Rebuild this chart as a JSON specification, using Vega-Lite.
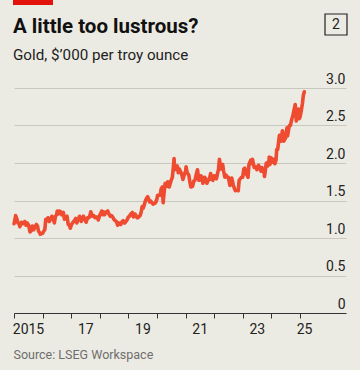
{
  "$schema": "https://vega.github.io/schema/vega-lite/v6.json",
  "width": 332,
  "height": 225,
  "autosize": {"type": "none"},
  "padding": {"left": 14, "top": 88, "right": 14, "bottom": 57},
  "background": "#ECEBE3",
  "config": {
    "view": {"stroke": null},
    "font": "Roboto",
    "axis": {"labelFont": "Roboto", "titleFont": "Roboto"}
  },
  "layer": [
    {
      "data": {"values": [
        {"date": "2015-01-02", "price": 1.19}, {"date": "2015-01-22", "price": 1.30}, {"date": "2015-02-05", "price": 1.26}, {"date": "2015-02-20", "price": 1.20}, {"date": "2015-03-05", "price": 1.20}, {"date": "2015-03-17", "price": 1.15}, {"date": "2015-04-06", "price": 1.21}, {"date": "2015-04-20", "price": 1.19}, {"date": "2015-05-05", "price": 1.19}, {"date": "2015-05-18", "price": 1.22}, {"date": "2015-06-05", "price": 1.17}, {"date": "2015-06-18", "price": 1.20}, {"date": "2015-07-07", "price": 1.17}, {"date": "2015-07-24", "price": 1.08}, {"date": "2015-08-10", "price": 1.10}, {"date": "2015-08-24", "price": 1.16}, {"date": "2015-09-10", "price": 1.11}, {"date": "2015-09-25", "price": 1.15}, {"date": "2015-10-14", "price": 1.18}, {"date": "2015-10-28", "price": 1.16}, {"date": "2015-11-10", "price": 1.09}, {"date": "2015-11-25", "price": 1.07}, {"date": "2015-12-03", "price": 1.05}, {"date": "2015-12-17", "price": 1.06}, {"date": "2015-12-31", "price": 1.06},
        {"date": "2016-01-15", "price": 1.09}, {"date": "2016-01-29", "price": 1.11}, {"date": "2016-02-11", "price": 1.25}, {"date": "2016-02-25", "price": 1.23}, {"date": "2016-03-10", "price": 1.27}, {"date": "2016-03-28", "price": 1.22}, {"date": "2016-04-12", "price": 1.25}, {"date": "2016-04-29", "price": 1.29}, {"date": "2016-05-16", "price": 1.27}, {"date": "2016-05-30", "price": 1.20}, {"date": "2016-06-14", "price": 1.29}, {"date": "2016-06-28", "price": 1.31}, {"date": "2016-07-06", "price": 1.36}, {"date": "2016-07-20", "price": 1.32}, {"date": "2016-08-03", "price": 1.36}, {"date": "2016-08-18", "price": 1.35}, {"date": "2016-09-02", "price": 1.31}, {"date": "2016-09-22", "price": 1.34}, {"date": "2016-10-06", "price": 1.25}, {"date": "2016-10-25", "price": 1.27}, {"date": "2016-11-08", "price": 1.29}, {"date": "2016-11-24", "price": 1.18}, {"date": "2016-12-08", "price": 1.17}, {"date": "2016-12-20", "price": 1.13},
        {"date": "2017-01-05", "price": 1.18}, {"date": "2017-01-24", "price": 1.21}, {"date": "2017-02-10", "price": 1.23}, {"date": "2017-02-27", "price": 1.26}, {"date": "2017-03-14", "price": 1.20}, {"date": "2017-03-31", "price": 1.25}, {"date": "2017-04-17", "price": 1.29}, {"date": "2017-05-09", "price": 1.22}, {"date": "2017-05-26", "price": 1.27}, {"date": "2017-06-06", "price": 1.29}, {"date": "2017-06-22", "price": 1.25}, {"date": "2017-07-10", "price": 1.21}, {"date": "2017-07-28", "price": 1.27}, {"date": "2017-08-15", "price": 1.27}, {"date": "2017-08-30", "price": 1.31}, {"date": "2017-09-08", "price": 1.35}, {"date": "2017-09-26", "price": 1.29}, {"date": "2017-10-16", "price": 1.30}, {"date": "2017-10-31", "price": 1.27}, {"date": "2017-11-15", "price": 1.28}, {"date": "2017-11-30", "price": 1.28}, {"date": "2017-12-12", "price": 1.24}, {"date": "2017-12-29", "price": 1.30},
        {"date": "2018-01-12", "price": 1.33}, {"date": "2018-01-25", "price": 1.36}, {"date": "2018-02-08", "price": 1.31}, {"date": "2018-02-16", "price": 1.35}, {"date": "2018-03-01", "price": 1.31}, {"date": "2018-03-26", "price": 1.35}, {"date": "2018-04-11", "price": 1.36}, {"date": "2018-04-27", "price": 1.32}, {"date": "2018-05-15", "price": 1.29}, {"date": "2018-05-31", "price": 1.30}, {"date": "2018-06-15", "price": 1.28}, {"date": "2018-06-29", "price": 1.25}, {"date": "2018-07-17", "price": 1.23}, {"date": "2018-08-01", "price": 1.22}, {"date": "2018-08-16", "price": 1.17}, {"date": "2018-09-03", "price": 1.20}, {"date": "2018-09-27", "price": 1.18}, {"date": "2018-10-11", "price": 1.22}, {"date": "2018-10-26", "price": 1.23}, {"date": "2018-11-13", "price": 1.20}, {"date": "2018-11-30", "price": 1.22}, {"date": "2018-12-14", "price": 1.24}, {"date": "2018-12-31", "price": 1.28},
        {"date": "2019-01-15", "price": 1.29}, {"date": "2019-01-31", "price": 1.32}, {"date": "2019-02-20", "price": 1.34}, {"date": "2019-03-07", "price": 1.28}, {"date": "2019-03-25", "price": 1.32}, {"date": "2019-04-23", "price": 1.27}, {"date": "2019-05-02", "price": 1.27}, {"date": "2019-05-31", "price": 1.30}, {"date": "2019-06-14", "price": 1.35}, {"date": "2019-06-25", "price": 1.42}, {"date": "2019-07-10", "price": 1.40}, {"date": "2019-07-19", "price": 1.43}, {"date": "2019-08-07", "price": 1.50}, {"date": "2019-08-26", "price": 1.54}, {"date": "2019-09-04", "price": 1.55}, {"date": "2019-09-30", "price": 1.48}, {"date": "2019-10-15", "price": 1.49}, {"date": "2019-11-12", "price": 1.45}, {"date": "2019-11-29", "price": 1.46}, {"date": "2019-12-13", "price": 1.47}, {"date": "2019-12-31", "price": 1.52},
        {"date": "2020-01-08", "price": 1.57}, {"date": "2020-01-24", "price": 1.57}, {"date": "2020-02-10", "price": 1.57}, {"date": "2020-02-24", "price": 1.66}, {"date": "2020-03-09", "price": 1.68}, {"date": "2020-03-19", "price": 1.47}, {"date": "2020-04-06", "price": 1.66}, {"date": "2020-04-14", "price": 1.73}, {"date": "2020-05-07", "price": 1.69}, {"date": "2020-05-18", "price": 1.75}, {"date": "2020-06-05", "price": 1.68}, {"date": "2020-06-30", "price": 1.77}, {"date": "2020-07-15", "price": 1.81}, {"date": "2020-07-28", "price": 1.95}, {"date": "2020-08-06", "price": 2.06}, {"date": "2020-08-12", "price": 1.91}, {"date": "2020-08-25", "price": 1.92}, {"date": "2020-09-16", "price": 1.96}, {"date": "2020-09-28", "price": 1.87}, {"date": "2020-10-12", "price": 1.92}, {"date": "2020-10-30", "price": 1.88}, {"date": "2020-11-09", "price": 1.86}, {"date": "2020-11-27", "price": 1.78}, {"date": "2020-12-15", "price": 1.85}, {"date": "2020-12-31", "price": 1.89},
        {"date": "2021-01-06", "price": 1.95}, {"date": "2021-01-20", "price": 1.87}, {"date": "2021-02-10", "price": 1.84}, {"date": "2021-02-26", "price": 1.73}, {"date": "2021-03-08", "price": 1.68}, {"date": "2021-03-30", "price": 1.69}, {"date": "2021-04-15", "price": 1.76}, {"date": "2021-04-30", "price": 1.77}, {"date": "2021-05-14", "price": 1.84}, {"date": "2021-06-01", "price": 1.91}, {"date": "2021-06-18", "price": 1.77}, {"date": "2021-06-30", "price": 1.77}, {"date": "2021-07-15", "price": 1.83}, {"date": "2021-07-30", "price": 1.81}, {"date": "2021-08-09", "price": 1.73}, {"date": "2021-08-31", "price": 1.81}, {"date": "2021-09-15", "price": 1.79}, {"date": "2021-09-29", "price": 1.73}, {"date": "2021-10-15", "price": 1.77}, {"date": "2021-10-29", "price": 1.78}, {"date": "2021-11-16", "price": 1.86}, {"date": "2021-11-30", "price": 1.78}, {"date": "2021-12-15", "price": 1.77}, {"date": "2021-12-31", "price": 1.83},
        {"date": "2022-01-14", "price": 1.82}, {"date": "2022-01-28", "price": 1.79}, {"date": "2022-02-14", "price": 1.87}, {"date": "2022-02-24", "price": 1.91}, {"date": "2022-03-08", "price": 2.05}, {"date": "2022-03-28", "price": 1.92}, {"date": "2022-04-18", "price": 1.98}, {"date": "2022-04-29", "price": 1.90}, {"date": "2022-05-16", "price": 1.81}, {"date": "2022-05-31", "price": 1.84}, {"date": "2022-06-14", "price": 1.81}, {"date": "2022-06-30", "price": 1.81}, {"date": "2022-07-20", "price": 1.70}, {"date": "2022-08-12", "price": 1.80}, {"date": "2022-08-31", "price": 1.71}, {"date": "2022-09-15", "price": 1.66}, {"date": "2022-09-28", "price": 1.63}, {"date": "2022-10-14", "price": 1.64}, {"date": "2022-11-03", "price": 1.63}, {"date": "2022-11-15", "price": 1.77}, {"date": "2022-12-14", "price": 1.81}, {"date": "2022-12-30", "price": 1.81},
        {"date": "2023-01-13", "price": 1.92}, {"date": "2023-01-26", "price": 1.93}, {"date": "2023-02-10", "price": 1.86}, {"date": "2023-02-28", "price": 1.83}, {"date": "2023-03-08", "price": 1.81}, {"date": "2023-03-20", "price": 1.98}, {"date": "2023-04-13", "price": 2.04}, {"date": "2023-04-28", "price": 1.99}, {"date": "2023-05-04", "price": 2.05}, {"date": "2023-05-25", "price": 1.94}, {"date": "2023-06-15", "price": 1.95}, {"date": "2023-06-29", "price": 1.91}, {"date": "2023-07-20", "price": 1.97}, {"date": "2023-08-08", "price": 1.93}, {"date": "2023-08-21", "price": 1.89}, {"date": "2023-09-01", "price": 1.94}, {"date": "2023-09-29", "price": 1.87}, {"date": "2023-10-05", "price": 1.82}, {"date": "2023-10-27", "price": 2.00}, {"date": "2023-11-15", "price": 1.96}, {"date": "2023-11-30", "price": 2.04}, {"date": "2023-12-04", "price": 2.08}, {"date": "2023-12-13", "price": 1.98}, {"date": "2023-12-28", "price": 2.07},
        {"date": "2024-01-17", "price": 2.01}, {"date": "2024-01-31", "price": 2.05}, {"date": "2024-02-14", "price": 1.99}, {"date": "2024-02-29", "price": 2.04}, {"date": "2024-03-08", "price": 2.18}, {"date": "2024-03-21", "price": 2.18}, {"date": "2024-04-12", "price": 2.37}, {"date": "2024-04-30", "price": 2.29}, {"date": "2024-05-20", "price": 2.43}, {"date": "2024-05-31", "price": 2.33}, {"date": "2024-06-07", "price": 2.29}, {"date": "2024-06-28", "price": 2.33}, {"date": "2024-07-17", "price": 2.47}, {"date": "2024-07-25", "price": 2.36}, {"date": "2024-08-16", "price": 2.50}, {"date": "2024-08-30", "price": 2.50}, {"date": "2024-09-16", "price": 2.58}, {"date": "2024-09-30", "price": 2.63}, {"date": "2024-10-18", "price": 2.72}, {"date": "2024-10-30", "price": 2.78}, {"date": "2024-11-14", "price": 2.56}, {"date": "2024-11-25", "price": 2.63}, {"date": "2024-12-11", "price": 2.72}, {"date": "2024-12-19", "price": 2.59}, {"date": "2024-12-31", "price": 2.61},
        {"date": "2025-01-15", "price": 2.69}, {"date": "2025-01-30", "price": 2.79}, {"date": "2025-02-11", "price": 2.90}, {"date": "2025-02-24", "price": 2.95}
      ]},
      "mark": {"type": "line", "color": "#EE4B31", "strokeWidth": 3.6, "strokeJoin": "round", "strokeCap": "round"},
      "encoding": {
        "x": {
          "field": "date", "type": "temporal",
          "scale": {"domain": ["2015-01-01", "2026-08-10"]},
          "axis": {
            "values": [{"year": 2015}, {"year": 2016}, {"year": 2017}, {"year": 2018}, {"year": 2019}, {"year": 2020}, {"year": 2021}, {"year": 2022}, {"year": 2023}, {"year": 2024}, {"year": 2025}],
            "labelExpr": "year(datum.value) == 2015 ? '2015' : (year(datum.value) % 2 == 1 ? timeFormat(datum.value, '%y') : '')",
            "labelOffset": {"condition": {"test": "year(datum.value) == 2025", "value": 4}, "value": 14},
            "labelAlign": "center",
            "labelFontSize": 14,
            "labelColor": "#222222",
            "labelPadding": 4,
            "domainColor": "#333333",
            "domainWidth": 1,
            "tickColor": "#333333",
            "tickSize": 5,
            "tickWidth": 1,
            "grid": false,
            "title": "Source: LSEG Workspace",
            "titleAnchor": "start",
            "titleAlign": "left",
            "titleBaseline": "alphabetic",
            "titleX": -1,
            "titleY": 45,
            "titleFontSize": 12.5,
            "titleFontWeight": "normal",
            "titleColor": "#6E6E6E"
          }
        },
        "y": {
          "field": "price", "type": "quantitative",
          "scale": {"domain": [0, 3]},
          "axis": {
            "orient": "right",
            "values": [0, 0.5, 1, 1.5, 2, 2.5, 3],
            "labelExpr": "datum.value == 0 ? '0' : format(datum.value, '.1f')",
            "labelAlign": "right",
            "labelBaseline": "bottom",
            "labelPadding": -1,
            "labelOffset": -2,
            "labelFontSize": 14,
            "labelColor": "#222222",
            "ticks": false,
            "domain": false,
            "grid": true,
            "gridColor": "#C9C8C0",
            "gridWidth": 1,
            "title": null
          }
        }
      }
    },
    {
      "data": {"values": [{}]},
      "mark": {"type": "rect", "color": "#E3120B"},
      "encoding": {"x": {"value": -1}, "x2": {"value": 39}, "y": {"value": -88}, "y2": {"value": -83}}
    },
    {
      "data": {"values": [{"t": "A little too lustrous?"}]},
      "mark": {"type": "text", "fontSize": 20.5, "fontWeight": "bold", "color": "#111111", "align": "left", "baseline": "alphabetic", "font": "Roboto"},
      "encoding": {"text": {"field": "t"}, "x": {"value": -1}, "y": {"value": -55}}
    },
    {
      "data": {"values": [{"t": "Gold, $’000 per troy ounce"}]},
      "mark": {"type": "text", "fontSize": 15.2, "color": "#222222", "align": "left", "baseline": "alphabetic", "font": "Roboto"},
      "encoding": {"text": {"field": "t"}, "x": {"value": -1}, "y": {"value": -28}}
    },
    {
      "data": {"values": [{}]},
      "mark": {"type": "rect", "fill": null, "stroke": "#222222", "strokeWidth": 1.2},
      "encoding": {"x": {"value": 311}, "x2": {"value": 333}, "y": {"value": -74}, "y2": {"value": -53}}
    },
    {
      "data": {"values": [{"t": "2"}]},
      "mark": {"type": "text", "fontSize": 14, "color": "#222222", "align": "center", "baseline": "middle", "font": "Roboto"},
      "encoding": {"text": {"field": "t"}, "x": {"value": 322}, "y": {"value": -63}}
    }
  ]
}
